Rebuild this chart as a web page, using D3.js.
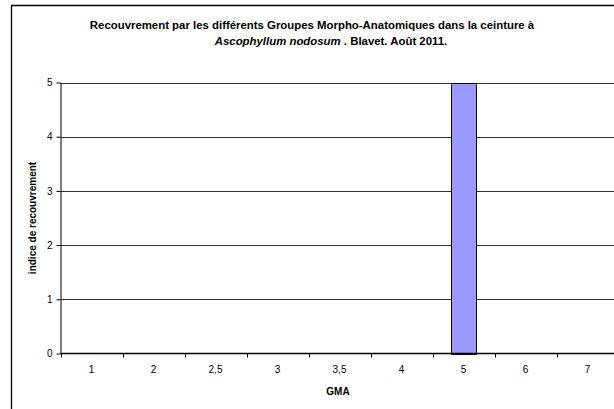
<!DOCTYPE html>
<html>
<head>
<meta charset="utf-8">
<script src="https://cdn.jsdelivr.net/npm/d3@7"></script>
<style>
  html, body { margin: 0; padding: 0; background: #fff; overflow: hidden; }
  svg { display: block; overflow: hidden; font-family: "Liberation Sans", Arial, sans-serif; }
</style>
</head>
<body>
<svg id="chart" width="614" height="409"></svg>
<script>
// Groupes Morpho-Anatomiques (GMA) and their cover index
const categories = ["1", "2", "2,5", "3", "3,5", "4", "5", "6", "7"];
const values = [0, 0, 0, 0, 0, 0, 5, 0, 0];
const yTicks = [0, 1, 2, 3, 4, 5];

const svg = d3.select("#chart");
const plot = { left: 60.5, right: 618.5, top: 82.5, bottom: 353.5 };

const x = d3.scaleBand().domain(categories).range([plot.left, plot.right]);
const y = d3.scaleLinear().domain([0, 5]).range([plot.bottom, plot.top]);

// outer chart frame: top and left edges
svg.append("line").attr("x1", 11.5).attr("x2", 11.5).attr("y1", 5).attr("y2", 409)
  .attr("stroke", "#000").attr("stroke-width", 1.3);
svg.append("line").attr("x1", 11).attr("x2", 614).attr("y1", 5.5).attr("y2", 5.5)
  .attr("stroke", "#000").attr("stroke-width", 1.3);

// title
svg.append("text")
  .attr("x", 312).attr("y", 29).attr("text-anchor", "middle")
  .attr("font-size", 11.4).attr("font-weight", "bold").attr("fill", "#000")
  .text("Recouvrement par les différents Groupes Morpho-Anatomiques dans la ceinture à");
const l2 = svg.append("text")
  .attr("x", 331).attr("y", 45).attr("text-anchor", "middle")
  .attr("font-size", 11.4).attr("font-weight", "bold").attr("fill", "#000");
l2.append("tspan").attr("font-style", "italic").text("Ascophyllum nodosum");
l2.append("tspan").text(" . Blavet. Août 2011.");

// horizontal gridlines
svg.append("g").selectAll("line")
  .data(yTicks.filter(d => d > 0))
  .join("line")
  .attr("x1", plot.left).attr("x2", 614)
  .attr("y1", d => Math.round(y(d)) + 0.5).attr("y2", d => Math.round(y(d)) + 0.5)
  .attr("stroke", "#333").attr("stroke-width", 1);

// bars
svg.append("g").selectAll("rect")
  .data(categories.map((c, i) => ({ c, v: values[i] })).filter(d => d.v > 0))
  .join("rect")
  .attr("x", d => Math.round(x(d.c) + x.bandwidth() * 0.295) + 0.5)
  .attr("width", d => Math.round(x.bandwidth() * 0.41))
  .attr("y", d => Math.round(y(d.v)) + 0.5)
  .attr("height", d => Math.round(y(0) - y(d.v)))
  .attr("fill", "#9999FF").attr("stroke", "#000").attr("stroke-width", 1);

// y axis
const yAxis = svg.append("g")
  .attr("transform", `translate(${plot.left},0)`)
  .call(d3.axisLeft(y).tickValues(yTicks).tickFormat(d3.format("d")).tickSizeInner(4).tickSizeOuter(0).tickPadding(4));
yAxis.select(".domain").attr("stroke", "#000");
yAxis.selectAll(".tick line").attr("stroke", "#000");
yAxis.selectAll("text").attr("font-size", 10).attr("font-family", "Liberation Sans, Arial, sans-serif").attr("fill", "#000");

// x axis with ticks between categories (the last boundary lies past the edge)
const xAxisG = svg.append("g").attr("transform", `translate(0,${plot.bottom})`);
xAxisG.append("line")
  .attr("x1", plot.left).attr("x2", 614)
  .attr("y1", 0).attr("y2", 0)
  .attr("stroke", "#000").attr("stroke-width", 1.5);
xAxisG.selectAll("line.tk")
  .data(categories)
  .join("line").attr("class", "tk")
  .attr("x1", d => Math.round(x(d)) + 0.5).attr("x2", d => Math.round(x(d)) + 0.5)
  .attr("y1", 0).attr("y2", 4)
  .attr("stroke", "#000");
xAxisG.selectAll("text")
  .data(categories)
  .join("text")
  .attr("x", d => x(d) + x.bandwidth() / 2)
  .attr("y", 19)
  .attr("text-anchor", "middle")
  .attr("font-size", 10).attr("fill", "#000")
  .text(d => d);

// axis titles
svg.append("text")
  .attr("x", 338).attr("y", 395)
  .attr("text-anchor", "middle")
  .attr("font-size", 10).attr("font-weight", "bold")
  .text("GMA");
svg.append("text")
  .attr("transform", `translate(36,${(plot.top + plot.bottom) / 2}) rotate(-90)`)
  .attr("text-anchor", "middle")
  .attr("font-size", 10).attr("font-weight", "bold")
  .text("indice de recouvrement");
</script>
</body>
</html>
